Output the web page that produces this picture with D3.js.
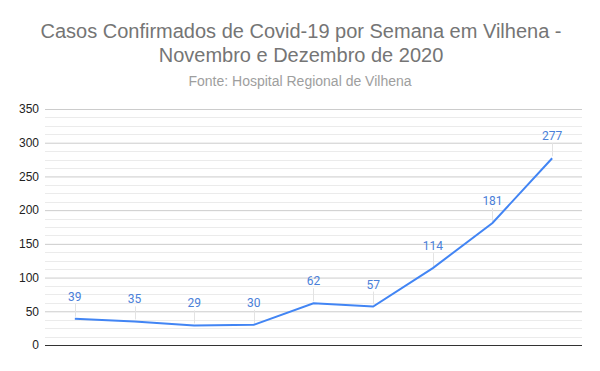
<!DOCTYPE html>
<html>
<head>
<meta charset="utf-8">
<script src="https://cdn.jsdelivr.net/npm/d3@7"></script>
<style>
  body { margin: 0; background: #fff; }
  svg { display: block; }
  text { font-family: "Liberation Sans", Arial, sans-serif; }
</style>
</head>
<body>
<svg></svg>
<script>
var width = 600;
var height = 371;

var margin = { left: 45, top: 109, right: 18, bottom: 26 };

// data
var weeks = [1, 2, 3, 4, 5, 6, 7, 8, 9];
var cases = [39, 35, 29, 30, 62, 57, 114, 181, 277];
var yTicks = [0, 50, 100, 150, 200, 250, 300, 350];

var svg = d3.select("svg")
  .attr("width", width)
  .attr("height", height);

svg.append("rect").attr("width", width).attr("height", height).attr("fill", "#fff");

// title
svg.append("text")
  .attr("x", 301).attr("y", 38)
  .attr("text-anchor", "middle")
  .style("font-size", "20px")
  .style("fill", "#757575")
  .text("Casos Confirmados de Covid-19 por Semana em Vilhena -");
svg.append("text")
  .attr("x", 301).attr("y", 62)
  .attr("text-anchor", "middle")
  .style("font-size", "20px")
  .style("fill", "#757575")
  .text("Novembro e Dezembro de 2020");
svg.append("text")
  .attr("x", 300).attr("y", 86)
  .attr("text-anchor", "middle")
  .style("font-size", "14px")
  .style("fill", "#9e9e9e")
  .text("Fonte: Hospital Regional de Vilhena");

var x = d3.scaleBand()
  .domain(weeks)
  .range([margin.left, width - margin.right]);

var y = d3.scaleLinear()
  .domain([0, 350])
  .range([height - margin.bottom, margin.top]);

// minor gridlines
svg.append("g")
  .selectAll("line")
  .data(d3.range(0, 350, 12.5).filter(d => d % 50 != 0))
  .enter()
  .append("line")
  .attr("x1", margin.left)
  .attr("x2", width - margin.right)
  .attr("y1", d => Math.round(y(d)) + 0.5)
  .attr("y2", d => Math.round(y(d)) + 0.5)
  .attr("stroke", "#ebebeb");

// major gridlines + labels
var yAxis = d3.axisLeft(y)
  .tickValues(yTicks)
  .tickSize(-(width - margin.left - margin.right))
  .tickPadding(6);

var yDraw = svg.append("g")
  .attr("transform", "translate(" + margin.left + ",0)")
  .call(yAxis);
yDraw.select(".domain").remove();
yDraw.selectAll(".tick line").attr("stroke", "#cccccc");
yDraw.selectAll(".tick text")
  .style("font-size", "12px")
  .style("fill", "#222")
  .style("font-family", "'Liberation Sans', Arial, sans-serif");

// baseline
svg.append("line")
  .attr("x1", margin.left)
  .attr("x2", width - margin.right)
  .attr("y1", y(0) + 0.5)
  .attr("y2", y(0) + 0.5)
  .attr("stroke", "#333");

var cx = d => x(d) + x.bandwidth() / 2;

// leader lines for labels
svg.append("g")
  .selectAll("line")
  .data(weeks)
  .enter()
  .append("line")
  .attr("x1", d => Math.round(cx(d)) + 0.5)
  .attr("x2", d => Math.round(cx(d)) + 0.5)
  .attr("y1", (d, i) => y(cases[i]) - 2)
  .attr("y2", (d, i) => y(cases[i]) - 15)
  .attr("stroke", "#e3e3e3");

// line
var line = d3.line()
  .x((d, i) => cx(weeks[i]))
  .y(d => y(d));

svg.append("path")
  .datum(cases)
  .attr("d", line)
  .attr("fill", "none")
  .attr("stroke", "#4285f4")
  .attr("stroke-width", 2);

// value labels
svg.append("g")
  .selectAll("text")
  .data(weeks)
  .enter()
  .append("text")
  .attr("x", d => cx(d))
  .attr("y", (d, i) => y(cases[i]) - 18)
  .attr("text-anchor", "middle")
  .style("font-family", "Roboto, sans-serif")
  .style("font-size", "12px")
  .style("fill", "#4a80d9")
  .text((d, i) => cases[i]);
</script>
</body>
</html>
